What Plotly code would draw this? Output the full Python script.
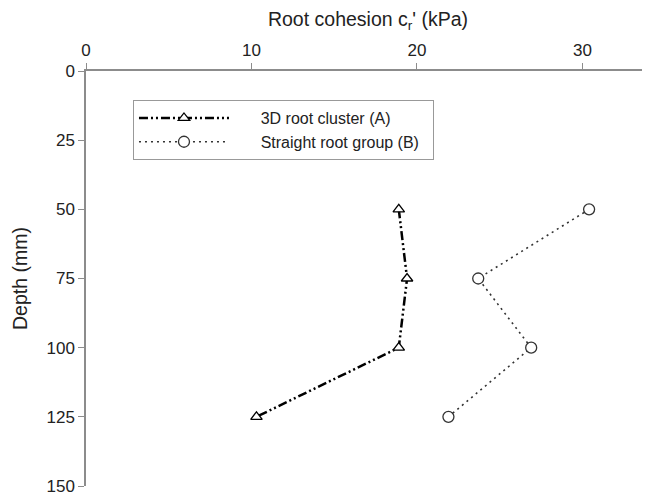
import plotly.graph_objects as go

depth = [50, 75, 100, 125]
cohesion_a = [18.9, 19.4, 18.9, 10.3]
cohesion_b = [30.4, 23.7, 26.9, 21.9]
name_a = "3D root cluster (A)"
name_b = "Straight root group (B)"
x_ticks = [0, 10, 20, 30]
y_ticks = [0, 25, 50, 75, 100, 125, 150]

pad = "\u00a0" * 6
tail = "\u00a0" * 2
fig = go.Figure()
fig.add_trace(go.Scatter(
    x=cohesion_a, y=depth, name=pad + name_a, mode="lines+markers",
    line=dict(color="black", width=2.5, dash="9px,3px,2px,3px,2px,3px"),
    marker=dict(symbol="triangle-up", size=10, color="white", line=dict(width=1.3, color="black")),
))
fig.add_trace(go.Scatter(
    x=cohesion_b, y=depth, name=pad + name_b + tail, mode="lines+markers",
    line=dict(color="#333333", width=1.6, dash="2px,4px"),
    marker=dict(symbol="circle", size=11, color="white", line=dict(width=1.3, color="#333333")),
))

fam = "Liberation Sans, Arial, sans-serif"
fig.update_layout(
    template="none",
    width=642, height=484,
    margin=dict(l=78, r=0, t=63, b=6, autoexpand=False),
    paper_bgcolor="white", plot_bgcolor="white",
    font=dict(family=fam, size=17, color="#222222"),
    showlegend=True,
    legend=dict(
        x=0.0833, y=0.930, xanchor="left", yanchor="top",
        bordercolor="#999999", borderwidth=1, bgcolor="white",
        font=dict(family=fam, size=16, color="#222222"),
        itemwidth=90,
    ),
    xaxis=dict(
        side="top", range=[0, 34.08], tickvals=x_ticks, automargin=False,
        showline=True, linecolor="#8c8c8c", linewidth=1.5,
        ticks="outside", ticklen=6, tickcolor="#8c8c8c",
        showgrid=False, zeroline=False, ticklabeloverflow="allow",
        title=dict(text="Root cohesion c<sub>r</sub>' (kPa)", font=dict(size=19.5), standoff=10),
        tickfont=dict(size=17),
    ),
    yaxis=dict(
        range=[150, 0], tickvals=y_ticks, automargin=False,
        showline=True, linecolor="#8c8c8c", linewidth=1.5,
        ticks="outside", ticklen=6, tickcolor="#8c8c8c",
        showgrid=False, zeroline=False, ticklabeloverflow="allow",
        title=dict(text="Depth (mm)", font=dict(size=19.5), standoff=14),
        tickfont=dict(size=17),
    ),
)

fig.write_html("out.html")
